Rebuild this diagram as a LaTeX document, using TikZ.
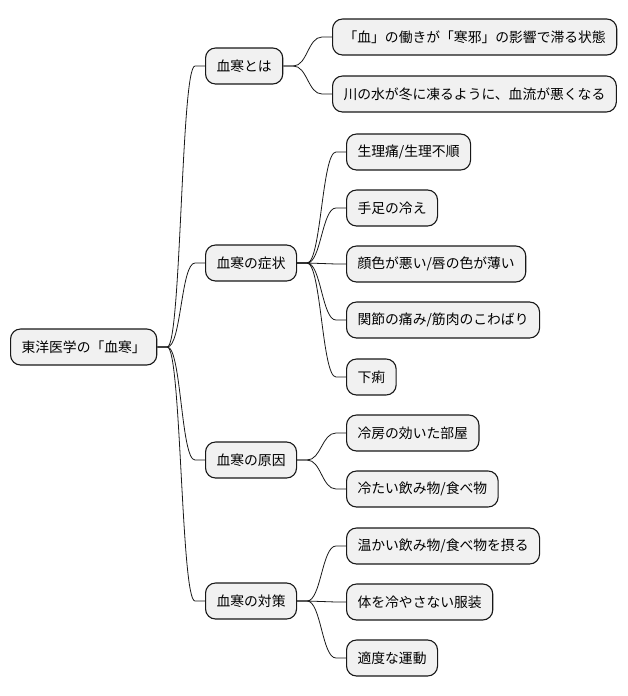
\documentclass[tikz,border=0pt]{standalone}
\usepackage{fontspec}
\newfontfamily\jpfont{Noto Sans CJK JP}
\definecolor{mapLine}{HTML}{181818}
\definecolor{mapFill}{HTML}{F1F1F1}
\usetikzlibrary{positioning}
\tikzset{
    map node/.style={rectangle, rounded corners=10pt, draw=mapLine, fill=mapFill, line width=1.1pt,
        minimum height=36pt, inner xsep=11pt, anchor=west, font=\jpfont\fontsize{13.8}{16}\selectfont},
    map link/.style={draw=mapLine, line width=0.8pt},
}
% branch from parent to child
\newcommand{\mapbranch}[2]{%
    \draw[map link] (#1.east) -- ++(10pt,0) .. controls +(14pt,0) and +(-14pt,0) .. ([xshift=-10pt]#2.west) -- (#2.west);}

\begin{document}
\begin{tikzpicture}[x=1pt, y=-1pt]
        \useasboundingbox (0,0) rectangle (628,696);

        % Root and main branches
        \node[map node] (root) at (10,347) {東洋医学の「血寒」};
        \node[map node] (about) at (205,66) {血寒とは};
        \node[map node] (symptom) at (205,263) {血寒の症状};
        \node[map node] (cause) at (205,460) {血寒の原因};
        \node[map node] (remedy) at (205,601) {血寒の対策};

        % Leaves
        \node[map node] (about1) at (332,37) {「血」の働きが「寒邪」の影響で滞る状態};
        \node[map node] (about2) at (332,94) {川の水が冬に凍るように、血流が悪くなる};

        \node[map node] (symptom1) at (346,152) {生理痛/生理不順};
        \node[map node] (symptom2) at (346,208) {手足の冷え};
        \node[map node] (symptom3) at (346,264) {顔色が悪い/唇の色が薄い};
        \node[map node] (symptom4) at (346,320) {関節の痛み/筋肉のこわばり};
        \node[map node] (symptom5) at (346,377) {下痢};

        \node[map node] (cause1) at (346,433) {冷房の効いた部屋};
        \node[map node] (cause2) at (346,489) {冷たい飲み物/食べ物};

        \node[map node] (remedy1) at (346,546) {温かい飲み物/食べ物を摂る};
        \node[map node] (remedy2) at (346,602) {体を冷やさない服装};
        \node[map node] (remedy3) at (346,658) {適度な運動};

        % Connectors
        \foreach \child in {about, symptom, cause, remedy}
            \mapbranch{root}{\child};
        \foreach \child in {about1, about2}
            \mapbranch{about}{\child};
        \foreach \child in {symptom1, symptom2, symptom3, symptom4, symptom5}
            \mapbranch{symptom}{\child};
        \foreach \child in {cause1, cause2}
            \mapbranch{cause}{\child};
        \foreach \child in {remedy1, remedy2, remedy3}
            \mapbranch{remedy}{\child};
    \end{tikzpicture}
\end{document}
